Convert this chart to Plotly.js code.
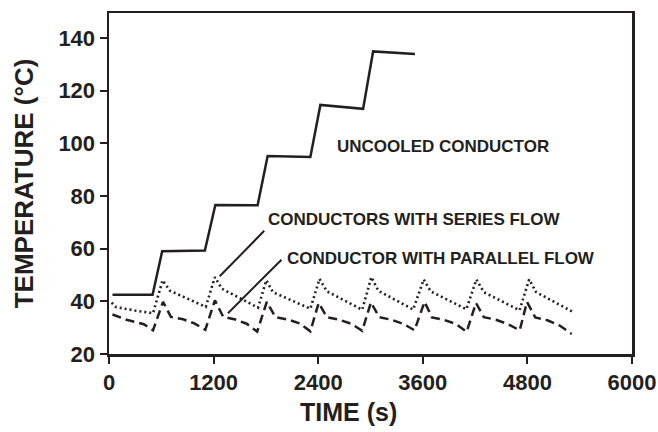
<!DOCTYPE html>
<html>
<head>
<meta charset="utf-8">
<script src="https://cdn.plot.ly/plotly-3.0.1.min.js"></script>
<style>html,body{margin:0;padding:0;background:#fff;}#chart{width:658px;height:432px;}</style>
</head>
<body>
<div id="chart"></div>
<script>
// Uncooled conductor (solid)
const uncooledTime = [40, 500, 610, 1100, 1220, 1705, 1820, 2310, 2425, 2915, 3030, 3510];
const uncooledTemp = [42.5, 42.5, 59, 59.3, 76.6, 76.5, 95.2, 94.8, 114.6, 113.1, 134.9, 133.9];

// Conductors with series flow (dotted)
const seriesTime = [30, 80, 300, 505,
  615, 700, 1110,
  1215, 1295, 1710,
  1805, 1880, 2310,
  2415, 2500, 2905,
  3010, 3090, 3490,
  3610, 3690, 4100,
  4215, 4300, 4710,
  4820, 4900, 5310];
const seriesTemp = [39.5, 37.8, 36.5, 35.5,
  48.0, 44.0, 37.9,
  49.2, 44.8, 37.6,
  48.0, 43.5, 37.2,
  48.5, 43.8, 36.8,
  49.2, 44.0, 36.9,
  48.3, 43.8, 37.0,
  48.3, 43.5, 36.6,
  48.3, 43.5, 36.2];

// Conductor with parallel flow (dashed)
const parallelTime = [40, 200, 400, 505,
  620, 710, 850, 980, 1105,
  1215, 1310, 1450, 1580, 1700,
  1810, 1910, 2050, 2190, 2310,
  2405, 2500, 2640, 2780, 2905,
  3005, 3100, 3240, 3380, 3505,
  3620, 3705, 3840, 3980, 4103,
  4210, 4300, 4440, 4580, 4712,
  4795, 4890, 5030, 5170, 5308];
const parallelTemp = [35.0, 33.0, 31.3, 29.0,
  39.8, 34.1, 33.2, 31.6, 29.2,
  40.4, 34.1, 33.1, 31.5, 28.5,
  39.8, 34.0, 33.1, 31.6, 28.6,
  39.4, 34.0, 33.0, 31.5, 28.8,
  39.6, 34.0, 33.0, 31.4, 29.0,
  39.8, 33.9, 33.0, 31.4, 28.4,
  39.4, 34.0, 33.0, 31.3, 29.0,
  39.8, 33.9, 32.8, 30.8, 27.6];

const xTicks = [0, 1200, 2400, 3600, 4800, 6000];
const yTicks = [20, 40, 60, 80, 100, 120, 140];

const labels = {
  uncooled: 'UNCOOLED CONDUCTOR',
  series: 'CONDUCTORS WITH SERIES FLOW',
  parallel: 'CONDUCTOR WITH PARALLEL FLOW',
  xTitle: 'TIME (s)',
  yTitle: 'TEMPERATURE (\u00B0C)'
};

const ink = '#231f20';
const fam = '"Liberation Sans", Arial, sans-serif';

const traces = [
  {x: uncooledTime, y: uncooledTemp, mode: 'lines', line: {color: ink, width: 2.5, dash: 'solid'}, hoverinfo: 'skip'},
  {x: seriesTime, y: seriesTemp, mode: 'lines', line: {color: ink, width: 2.6, dash: '2px,3px'}, hoverinfo: 'skip'},
  {x: parallelTime, y: parallelTemp, mode: 'lines', line: {color: ink, width: 2.5, dash: '9px,5px'}, hoverinfo: 'skip'}
];

const annFont = {family: fam, size: 17, color: ink, weight: 'bold'};
const tickFont = {family: fam, size: 22, color: ink, weight: 'bold'};

const layout = {
  width: 658, height: 432,
  margin: {l: 109, r: 26, t: 13, b: 78},
  paper_bgcolor: '#fff', plot_bgcolor: '#fff',
  showlegend: false,
  font: {family: fam, color: ink},
  xaxis: {
    range: [0, 6000], tickvals: xTicks, ticktext: xTicks.map(String),
    showgrid: false, zeroline: false,
    showline: true, mirror: true, linecolor: ink, linewidth: 2.5,
    ticks: 'outside', ticklen: 7, tickwidth: 2, tickcolor: ink,
    tickfont: tickFont
  },
  yaxis: {
    range: [20, 149.5], tickvals: yTicks, ticktext: yTicks.map(String),
    showgrid: false, zeroline: false,
    showline: true, mirror: true, linecolor: ink, linewidth: 2.5,
    ticks: 'outside', ticklen: 7, tickwidth: 2, tickcolor: ink,
    tickfont: tickFont,
    title: {text: labels.yTitle, font: {family: fam, size: 26, color: ink, weight: 'bold'}, standoff: 18}
  },
  annotations: [
    {x: 0.457, y: -0.17, xref: 'paper', yref: 'paper', text: labels.xTitle, showarrow: false,
     font: {family: fam, size: 25, color: ink, weight: 'bold'}, xanchor: 'center', yanchor: 'middle'},
    {x: 3832, y: 98.7, xref: 'x', yref: 'y', text: labels.uncooled, showarrow: false, font: annFont, xanchor: 'center', yanchor: 'middle'},
    {x: 3500, y: 71.0, xref: 'x', yref: 'y', text: labels.series, showarrow: false, font: annFont, xanchor: 'center', yanchor: 'middle'},
    {x: 3809, y: 56.2, xref: 'x', yref: 'y', text: labels.parallel, showarrow: false, font: annFont, xanchor: 'center', yanchor: 'middle'},
    {x: 1270, y: 49.5, xref: 'x', yref: 'y', text: '', showarrow: true, arrowhead: 0, arrowwidth: 2, arrowcolor: ink, ax: 46, ay: -47, standoff: 0, startstandoff: 0},
    {x: 1365, y: 35.5, xref: 'x', yref: 'y', text: '', showarrow: true, arrowhead: 0, arrowwidth: 2, arrowcolor: ink, ax: 55, ay: -55, standoff: 0, startstandoff: 0}
  ]
};

Plotly.newPlot('chart', traces, layout, {staticPlot: true, displayModeBar: false});
</script>
</body>
</html>
